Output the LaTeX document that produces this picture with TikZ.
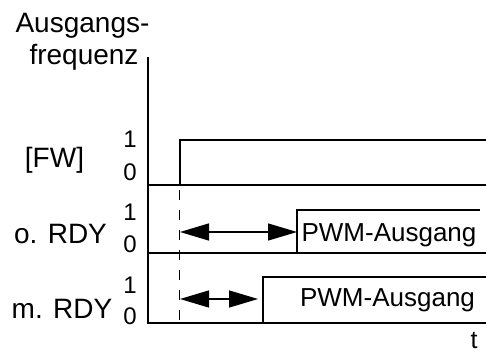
\documentclass[tikz,border=0pt]{standalone}
\usepackage{fontspec}
\setmainfont{Liberation Sans}
\usetikzlibrary{arrows.meta}
\begin{document}
\begin{tikzpicture}[x=1pt,y=-1pt,
  sig/.style={line width=2.8pt,line cap=rect},
  lbl/.style={inner sep=0pt,font=\fontsize{28}{30}\selectfont},
  dig/.style={inner sep=0pt,anchor=base,font=\fontsize{24}{26}\selectfont},
  pwm/.style={inner sep=0pt,anchor=base,font=\fontsize{26}{28}\selectfont},
  tri/.tip={Triangle[length=29pt,width=17pt]},
  dim/.style={line width=1.4pt,tri-tri,shorten <=0pt,shorten >=0pt},
  guide/.style={line width=1.6pt,dash pattern=on 10pt off 10pt}]
\useasboundingbox (0,0) rectangle (486,352);
% labels
\node[lbl,anchor=base] (l1) at (82.5,33) {Ausgangs-};
\node[lbl,anchor=base] (l2) at (84,65) {frequenz};
\node[lbl,anchor=center] (fw) at (54.5,160) {[FW]};
\node[lbl,anchor=base] (ordy) at (60.5,243) {o. RDY};
\node[lbl,anchor=base] (mrdy) at (62,318) {m. RDY};
\node[dig] (f1) at (130,148) {1};
\node[dig] (f0) at (130,181) {0};
\node[dig] (o1) at (130,221) {1};
\node[dig] (o0) at (130,252) {0};
\node[dig] (m1) at (130,293) {1};
\node[dig] (m0) at (130,324) {0};
\node[pwm] (p1) at (389,241) {PWM-Ausgang};
\node[pwm] (p2) at (387.5,306) {PWM-Ausgang};
\node[pwm,font=\fontsize{25}{27}\selectfont] (t) at (474,348) {t};
% axis
\coordinate (axtop) at (148,57);
\coordinate (axbot) at (148,323);
\draw[sig,line cap=butt] (axtop) -- (148,324.4);
% FW signal
\coordinate (fwa) at (148,185);
\coordinate (fwb) at (487,185);
\coordinate (fwr) at (180,185);
\coordinate (fwt) at (487,140);
\draw[sig,line cap=butt] (fwa) -- (fwb);
\draw[sig,line cap=butt] (fwr) |- (fwt);
% o. RDY signal
\coordinate (oa) at (148,253);
\coordinate (ob) at (487,253);
\coordinate (or) at (297,253);
\coordinate (ot) at (480,210);
\draw[sig,line cap=butt] (oa) -- (ob);
\draw[sig,line cap=butt] (or) |- (ot);
% m. RDY signal
\coordinate (ma) at (146.6,323);
\coordinate (mb) at (487,323);
\coordinate (mr) at (263,323);
\coordinate (mt) at (487,277);
\draw[sig,line cap=butt] (ma) -- (mb);
\draw[sig,line cap=butt] (mr) |- (mt);
% guide
\coordinate (g1) at (179.3,190);
\coordinate (g2) at (179.3,322);
\draw[guide] (g1) -- (g2);
% delay arrows
\coordinate (oa1) at (180,232);
\coordinate (oa2) at (297,232);
\draw[dim] (oa1) -- (oa2);
\coordinate (ma1) at (180,299);
\coordinate (ma2) at (258,299);
\draw[dim] (ma1) -- (ma2);
\end{tikzpicture}
\end{document}
